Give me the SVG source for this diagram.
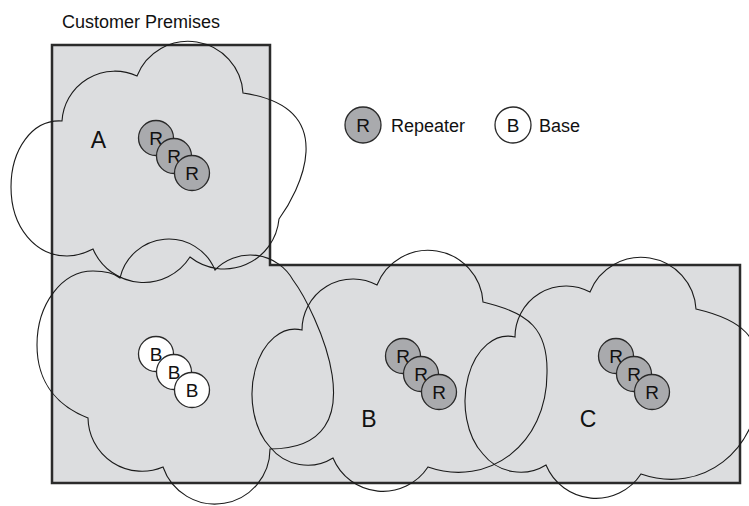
<svg xmlns="http://www.w3.org/2000/svg" width="749" height="506" viewBox="0 0 749 506">
<style>
.cloud{fill:none;stroke:#1a1a1a;stroke-width:1.1}
.rep{fill:#a9aaad;stroke:#2a2a2a;stroke-width:1.3}
.base{fill:#ffffff;stroke:#2a2a2a;stroke-width:1.3}
.ct{font-family:"Liberation Sans",Arial,sans-serif;font-size:19px;fill:#111;text-anchor:middle}
.lbl{font-family:"Liberation Sans",Arial,sans-serif;font-size:23px;fill:#111;text-anchor:middle}
.txt{font-family:"Liberation Sans",Arial,sans-serif;font-size:18px;fill:#111}
</style>
<rect width="749" height="506" fill="#ffffff"/>
<g id="premises">
<path d="M52,45 H270 V265 H740 V483 H52 Z" fill="#dcdddf" stroke="#2b2b2b" stroke-width="2.5"/>
<text class="txt" x="62" y="28">Customer Premises</text>
</g>
<g id="connectors"/>
<g id="cloudA">
<path class="cloud" d="M62,121 A53,53 0 0 1 137,76 A55,55 0 0 1 243,93 C344,108 298,193 279,219 A55,55 0 0 1 190,257 A55,55 0 0 1 93,249 C85,253 75,256 67,256 C36,256 11,228 11,187 C11,150 32,119 62,121 Z"/>
<text class="lbl" x="98.5" y="148">A</text>
<circle class="rep" cx="156" cy="138" r="17.5"/><text class="ct" x="156" y="145">R</text>
<circle class="rep" cx="174" cy="156" r="17.5"/><text class="ct" x="174" y="163">R</text>
<circle class="rep" cx="192" cy="173" r="17.5"/><text class="ct" x="192" y="180">R</text>
</g>
<g id="cloudBase">
<path class="cloud" d="M88,418 C60,407 37,385 37,345 C37,304 62,271 93,271 C105,271 114,273 120,278 A50,50 0 0 1 215,270 A49,49 0 0 1 293,280 C314,308 384,449 270,449 A55,55 0 0 1 163,467 A54,54 0 0 1 88,418 Z"/>
<circle class="base" cx="156" cy="354" r="17.5"/><text class="ct" x="156" y="361">B</text>
<circle class="base" cx="174" cy="372" r="17.5"/><text class="ct" x="174" y="379">B</text>
<circle class="base" cx="192" cy="390" r="17.5"/><text class="ct" x="192" y="397">B</text>
</g>
<g id="cloudB">
<path class="cloud" d="M270,447 A43,65 0 0 1 302,330 A51,51 0 0 1 377,285 A55,55 0 0 1 483,302 C530,313 548,330 547,373 C547,445 488,488 428,467 A54,54 0 0 1 333,458 A48,48 0 0 1 270,447 Z"/>
<text class="lbl" x="369" y="427">B</text>
<circle class="rep" cx="403" cy="356" r="17.5"/><text class="ct" x="403" y="363">R</text>
<circle class="rep" cx="421" cy="374" r="17.5"/><text class="ct" x="421" y="381">R</text>
<circle class="rep" cx="439" cy="392" r="17.5"/><text class="ct" x="439" y="399">R</text>
</g>
<g id="cloudC">
<path class="cloud" transform="translate(213,7)" d="M270,447 A43,65 0 0 1 302,330 A51,51 0 0 1 377,285 A55,55 0 0 1 483,302 C530,313 548,330 547,373 C547,445 488,488 428,467 A54,54 0 0 1 333,458 A48,48 0 0 1 270,447 Z"/>
<text class="lbl" x="588" y="427">C</text>
<circle class="rep" cx="616" cy="356" r="17.5"/><text class="ct" x="616" y="363">R</text>
<circle class="rep" cx="634" cy="374" r="17.5"/><text class="ct" x="634" y="381">R</text>
<circle class="rep" cx="652" cy="392" r="17.5"/><text class="ct" x="652" y="399">R</text>
</g>
<g id="legend">
<circle class="rep" cx="363" cy="125" r="18"/><text class="ct" x="363" y="132">R</text>
<text class="txt" x="391" y="132">Repeater</text>
<circle class="base" cx="513" cy="125" r="18"/><text class="ct" x="513" y="132">B</text>
<text class="txt" x="539" y="132">Base</text>
</g>
</svg>
